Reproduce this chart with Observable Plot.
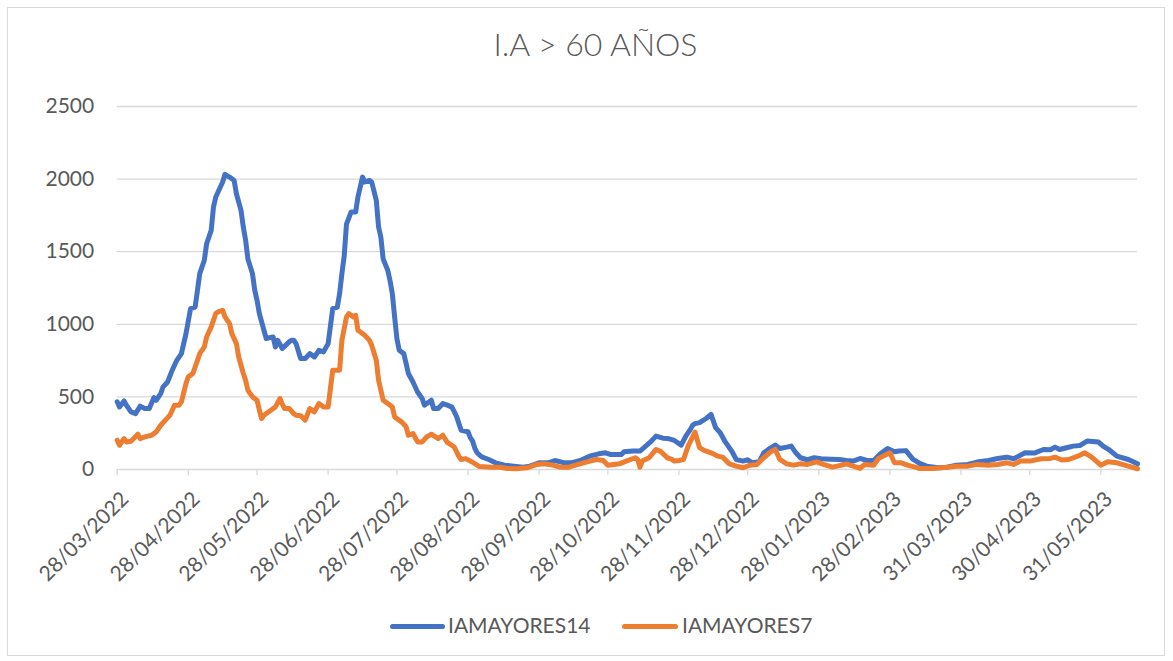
<!DOCTYPE html>
<html>
<head>
<meta charset="utf-8">
<script src="https://cdn.jsdelivr.net/npm/d3@7"></script>
<script src="https://cdn.jsdelivr.net/npm/@observablehq/plot@0.6"></script>
<style>
  body { margin: 0; background: #fff; font-family: Lato, "Open Sans", sans-serif; }
  #wrap { position: relative; width: 1173px; height: 661px; overflow: hidden; background: #fff; }
  #chart { position: absolute; left: 0; top: 0; }
  #border { position: absolute; left: 7px; top: 7px; width: 1158px; height: 649px; border: 1px solid #d9d9d9; box-sizing: border-box; pointer-events: none; }
  #title { position: absolute; left: 9px; top: 28px; width: 1173px; text-align: center; font-size: 32px; line-height: 32px; font-weight: 300; color: #595959; white-space: nowrap; }
  .sw { position: absolute; height: 5px; border-radius: 3px; top: 624px; }
  .lt { position: absolute; top: 614px; font-size: 21px; line-height: 21px; color: #595959; white-space: nowrap; }
</style>
</head>
<body>
<div id="wrap">
  <div id="chart"></div>
  <div id="border"></div>
  <div id="title"></div>
  <div class="sw" id="sw14" style="left:390px;width:55px;background:#4472C4"></div>
  <div class="lt" id="lt14" style="left:448px"></div>
  <div class="sw" id="sw7" style="left:622px;width:56px;background:#ED7D31"></div>
  <div class="lt" id="lt7" style="left:682px"></div>
</div>
<script>
// ---- Data (days since 28/03/2022) ----
const titleText = "I.A > 60 AÑOS";
const startDate = "2022-03-28";
const lastDay = 445;
const seriesNames = ["IAMAYORES14", "IAMAYORES7"];
const seriesColors = ["#4472C4", "#ED7D31"];

const days14 = [0,1,3,4,6,8,10,12,14,16,17,19,20,22,24,26,28,30,32,34,35,36,38,39,41,42,43,44,46,47,49,51,52,54,55,56,57,59,60,61,62,64,65,68,69,70,72,75,76,77,78,80,82,84,86,88,90,92,94,96,97,98,99,100,102,104,105,107,108,110,111,113,114,115,116,118,119,120,121,122,123,125,127,129,131,133,134,137,138,140,142,144,146,148,150,153,154,155,156,157,158,159,162,165,169,173,177,180,184,188,191,195,198,202,206,210,213,215,220,221,225,228,230,233,235,238,240,243,246,248,250,251,252,254,257,259,261,263,265,268,270,273,275,277,280,282,284,287,289,292,294,296,298,301,304,307,311,315,318,321,324,327,330,333,336,339,341,344,347,350,353,358,362,366,371,375,380,384,388,391,396,400,404,407,409,411,414,417,420,423,428,430,433,436,441,445];
const vals14 = [466,431,472,443,397,385,436,420,420,495,477,523,569,603,684,752,798,936,1108,1119,1234,1349,1441,1555,1647,1808,1877,1911,1980,2033,2014,1991,1899,1785,1670,1580,1450,1349,1234,1165,1074,959,902,913,844,890,833,879,890,890,867,765,764,798,775,821,810,867,1108,1119,1211,1349,1470,1690,1773,1773,1877,2014,1980,1991,1980,1854,1670,1600,1450,1372,1300,1211,1050,900,821,798,661,603,534,489,443,477,420,420,454,443,430,366,270,260,220,196,145,115,100,87,69,46,30,23,16,23,46,46,62,46,46,62,92,108,115,104,104,122,127,127,154,196,230,216,214,200,168,230,276,306,316,323,353,380,288,253,196,127,69,58,67,46,53,115,138,168,145,154,161,115,81,67,81,74,71,69,62,58,76,62,62,110,145,122,127,130,72,42,23,12,16,30,35,51,62,76,85,74,115,113,138,136,154,138,150,161,166,196,189,161,131,92,69,39];

const days7 = [0,1,3,4,6,9,10,12,15,17,19,21,23,25,27,28,30,31,33,35,36,38,39,41,43,44,46,47,49,50,52,53,55,56,57,59,61,62,63,64,67,69,71,72,73,75,77,78,80,82,84,86,88,90,92,94,97,98,100,101,103,104,105,108,110,111,113,114,116,118,120,121,124,126,127,129,131,133,135,137,140,142,144,147,149,150,152,155,158,163,167,170,174,179,183,186,190,193,197,201,205,209,212,214,219,222,226,227,228,229,232,235,237,240,242,243,245,247,249,252,254,256,259,262,264,267,270,273,276,279,282,285,287,289,292,295,298,301,305,308,312,316,318,324,326,330,332,337,339,342,345,348,350,352,356,362,366,371,375,380,384,388,391,394,398,403,407,409,412,415,419,422,425,429,432,436,441,445];
const vals7 = [202,167,213,190,195,243,213,225,236,259,305,340,374,443,443,466,592,638,661,752,798,844,913,982,1074,1085,1097,1051,1005,936,867,775,661,615,546,500,477,408,351,374,408,431,489,450,420,420,385,374,370,340,420,397,454,431,431,684,684,890,1051,1074,1051,1062,959,924,890,856,752,615,477,454,431,362,328,294,236,248,190,190,225,243,213,236,187,155,90,69,75,50,20,16,16,7,5,12,35,39,30,16,16,35,53,69,62,30,39,58,81,69,16,58,81,138,125,80,69,58,62,69,161,258,150,131,115,92,85,39,23,12,30,35,81,122,138,69,39,30,39,35,53,35,16,30,39,7,35,30,76,115,46,46,28,16,7,7,7,16,23,23,35,30,35,46,35,58,58,74,76,85,65,69,92,115,85,30,53,46,23,5];

const yTicks = [0, 500, 1000, 1500, 2000, 2500];
const tickDateStrings = ["2022-03-28","2022-04-28","2022-05-28","2022-06-28","2022-07-28","2022-08-28","2022-09-28","2022-10-28","2022-11-28","2022-12-28","2023-01-28","2023-02-28","2023-03-31","2023-04-30","2023-05-31"];
const tickLabels = ["28/03/2022","28/04/2022","28/05/2022","28/06/2022","28/07/2022","28/08/2022","28/09/2022","28/10/2022","28/11/2022","28/12/2022","28/01/2023","28/02/2023","31/03/2023","30/04/2023","31/05/2023"];

// ---- Build ----
const start = new Date(startDate + "T00:00:00Z");
const toDate = d => d3.utcDay.offset(start, d);
const s14 = days14.map((d, i) => ({date: toDate(d), value: vals14[i]}));
const s7 = days7.map((d, i) => ({date: toDate(d), value: vals7[i]}));
const tickDates = tickDateStrings.map(s => new Date(s + "T00:00:00Z"));

document.getElementById("title").textContent = titleText;
document.getElementById("lt14").textContent = seriesNames[0];
document.getElementById("lt7").textContent = seriesNames[1];

const grey = "#d9d9d9";
const textCol = "#595959";

const chart = Plot.plot({
  width: 1173,
  height: 661,
  marginLeft: 116.7,
  marginRight: 36,
  marginTop: 106,
  marginBottom: 192,
  style: {fontFamily: "Lato, 'Open Sans', sans-serif", fontSize: "21px", color: textCol, background: "transparent"},
  x: {type: "utc", domain: [start, toDate(lastDay)], axis: null},
  y: {domain: [0, 2500]},
  marks: [
    Plot.ruleY(yTicks.filter(v => v > 0), {stroke: grey, strokeWidth: 1.3, strokeOpacity: 1}),
    Plot.ruleY([0], {stroke: grey, strokeWidth: 1.3, strokeOpacity: 1}),
    Plot.ruleX(tickDates, {x: d => d, y1: () => 0, y2: () => 0, insetBottom: -6, stroke: grey, strokeWidth: 1.3, strokeOpacity: 1}),
    Plot.axisY({ticks: yTicks, tickFormat: d => String(d), tickSize: 0, tickPadding: 23, fill: textCol, fontSize: 21, label: null}),
    Plot.text(tickDates, {x: d => d, y: () => 0, text: (d, i) => tickLabels[i], rotate: -45, textAnchor: "end", lineAnchor: "middle", dx: 8, dy: 26, fill: textCol, fontSize: 21}),
    Plot.line(s14, {x: "date", y: "value", stroke: seriesColors[0], strokeWidth: 5, strokeLinejoin: "round", strokeLinecap: "round"}),
    Plot.line(s7, {x: "date", y: "value", stroke: seriesColors[1], strokeWidth: 5, strokeLinejoin: "round", strokeLinecap: "round"})
  ]
});
document.getElementById("chart").appendChild(chart);
</script>
</body>
</html>
